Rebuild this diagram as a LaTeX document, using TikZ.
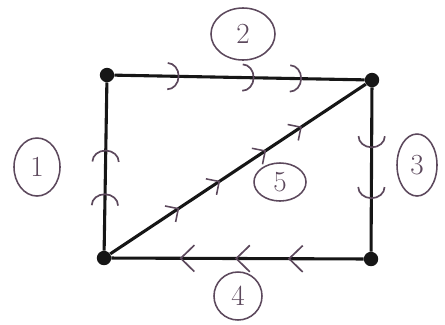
\documentclass[tikz,border=0pt]{standalone}
\usepackage{tikz}
\usetikzlibrary{positioning,arrows.meta,shapes.geometric,decorations.markings}
\definecolor{inkBlack}{RGB}{22,22,22}
\definecolor{penPlum}{RGB}{92,72,92}

\begin{document}
\begin{tikzpicture}[x=0.025cm, y=-0.025cm,
  vtx/.style={circle, fill=inkBlack, inner sep=0pt, minimum size=0.36cm},
  edge/.style={draw=inkBlack, line width=2.2pt},
  lbl/.style={ellipse, draw=penPlum, line width=1.1pt, text=penPlum,
              font=\huge, inner sep=0pt},
  tickat/.style={postaction={decorate, decoration={markings,
      mark=at position #1 with {\arrow[penPlum, line width=1.2pt]{Arc Barb[length=3mm, width=7mm]}}}}},
  chevat/.style={postaction={decorate, decoration={markings,
      mark=at position #1 with {\arrow[penPlum, line width=1.2pt]{Straight Barb[length=3.4mm, width=6.6mm]}}}}},
  smalltick/.style={postaction={decorate, decoration={markings,
      mark=at position #1 with {\arrow[penPlum, line width=1.1pt]{Straight Barb[length=2.4mm, width=4.8mm]}}}}}
]
\useasboundingbox (0,0) rectangle (445,324);
\node[vtx] (TL) at (107,75) {};
\node[vtx] (TR) at (372,80) {};
\node[vtx] (BL) at (104,258) {};
\node[vtx] (BR) at (371,259) {};
% edges with their flow marks
\draw[edge, tickat=0.34, tickat=0.6] (BL) -- (TL);
\draw[edge, tickat=0.26, tickat=0.56, tickat=0.75] (TL) -- (TR);
\draw[edge, tickat=0.37, tickat=0.68] (TR) -- (BR);
\draw[edge, chevat=0.3, chevat=0.51, chevat=0.73] (BR) -- (BL);
\draw[edge, smalltick=0.27, smalltick=0.43, smalltick=0.61, smalltick=0.75] (BL) -- (TR);
% circled labels
\node[lbl, minimum width=1.15cm, minimum height=1.45cm] (L1) at (37,167) {1};
\node[lbl, minimum width=1.6cm, minimum height=1.3cm] (L2) at (243,34) {2};
\node[lbl, minimum width=1.0cm, minimum height=1.55cm] (L3) at (417,165) {3};
\node[lbl, minimum width=1.2cm, minimum height=1.2cm] (L4) at (238,296) {4};
\node[lbl, minimum width=1.3cm, minimum height=0.95cm] (L5) at (280,182) {5};
\end{tikzpicture}
\end{document}
